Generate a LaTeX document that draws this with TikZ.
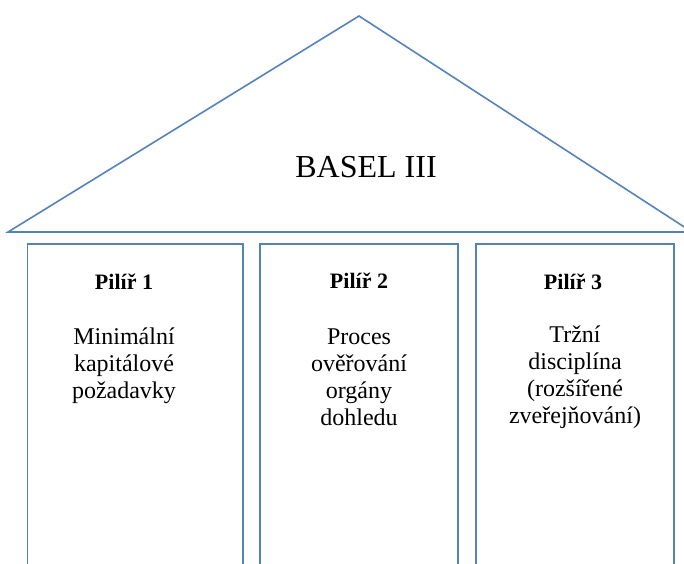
\documentclass[tikz,border=0pt]{standalone}
\usepackage{fontspec}
\setmainfont{Liberation Serif}
\definecolor{outline}{RGB}{84,130,186}
\begin{document}
\begin{tikzpicture}[x=1pt,y=-1pt,
  frame/.style={draw=outline,line width=1.6pt},
  pillar/.style={frame,rectangle,anchor=north west,inner sep=0pt,minimum height=360pt},
  head/.style={font=\fontsize{22}{26}\selectfont\bfseries,anchor=base,inner sep=0pt},
  body/.style={font=\fontsize{24}{27}\selectfont,align=center,anchor=base,inner sep=0pt},
]
\useasboundingbox (0,0) rectangle (684,563);
\clip (0,0) rectangle (684,563);

% roof
\coordinate (eaveL) at (8,232);
\coordinate (apex) at (359,16);
\coordinate (eaveR) at (692,232);
\draw[frame,line join=miter] (eaveL) -- (apex) -- (eaveR) -- cycle;
\node[anchor=base,inner sep=0pt,font=\fontsize{32}{36}\selectfont] (title) at (366,177) {BASEL III};

% pillars
\node[pillar,minimum width=215.8pt] (p1) at (26.5,243) {};
\node[pillar,minimum width=198pt] (p2) at (259.3,243) {};
\node[pillar,minimum width=198.3pt] (p3) at (475,243) {};

% pillar headings
\node[head] (h1) at (124,289) {Pilíř 1};
\node[head] (h2) at (359,288) {Pilíř 2};
\node[head] (h3) at (573,289) {Pilíř 3};

% descriptions (anchored at the baseline of the last line)
\node[body] (b1) at (124,398) {Minimální\\kapitálové\\požadavky};
\node[body] (b2) at (359,425) {Proces\\ověřování\\orgány\\dohledu};
\node[body] (b3) at (575,423) {Tržní\\disciplína\\(rozšířené\\zveřejňování)};
\end{tikzpicture}
\end{document}
